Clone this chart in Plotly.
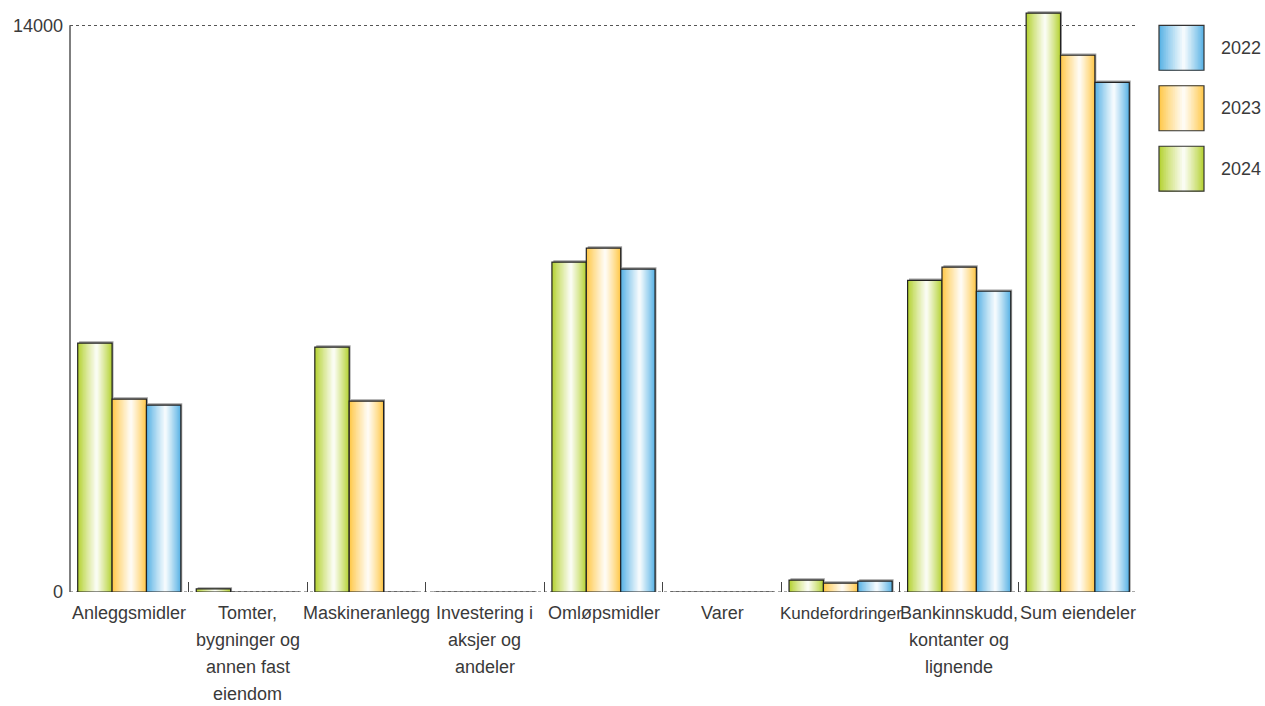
import plotly.graph_objects as go

categories = ["Anleggsmidler", "Tomter, bygninger og annen fast eiendom", "Maskineranlegg",
              "Investering i aksjer og andeler", "Omløpsmidler", "Varer", "Kundefordringer",
              "Bankinnskudd, kontanter og lignende", "Sum eiendeler"]
label_lines = [["Anleggsmidler"], ["Tomter,", "bygninger og", "annen fast", "eiendom"], ["Maskineranlegg"],
               ["Investering i", "aksjer og", "andeler"], ["Omløpsmidler"], ["Varer"], ["Kundefordringer"],
               ["Bankinnskudd,", "kontanter og", "lignende"], ["Sum eiendeler"]]
years = ["2024", "2023", "2022"]
v2024 = [6150, 75, 6050, 0, 8150, 0, 295, 7700, 14300]
v2023 = [4765, 0, 4715, 0, 8495, 0, 220, 8025, 13260]
v2022 = [4615, 0, 0, 0, 7975, 0, 270, 7430, 12590]
series = [v2024, v2023, v2022]
base_colors = [(181, 210, 52), (255, 200, 74), (88, 178, 228)]
y_max_tick = 14000
y_top = 14600

FONT = "Liberation Sans, Arial, sans-serif"
TXT = "#3a3a3a"
FS = 18

def mix(c, t):
    r, g, b = [int(round(ch + (255 - ch) * t)) for ch in c]
    return f"rgb({r},{g},{b})"

N = 14
GROUP_LEFT = -0.435
BW = 0.29
CENTER = 0.55

fig = go.Figure()
xs = list(range(len(categories)))

for i, (vals, col) in enumerate(zip(series, base_colors)):
    left = GROUP_LEFT + i * BW
    # shadow
    fig.add_trace(go.Bar(x=xs, y=[v + 45 if v > 0 else 0 for v in vals], offset=left + 0.012, width=BW,
                         marker=dict(color="#a0a0a0", line=dict(width=0)),
                         showlegend=False, hoverinfo="skip"))
    for k in range(N):
        t = k / N
        l = left + CENTER * BW * t
        r = left + BW - (1 - CENTER) * BW * t
        fig.add_trace(go.Bar(x=xs, y=vals, offset=l, width=r - l,
                             marker=dict(color=mix(col, t ** 0.9), line=dict(width=0)),
                             showlegend=False, hoverinfo="skip"))
    fig.add_trace(go.Bar(x=xs, y=vals, offset=left, width=BW, name=years[i],
                         marker=dict(color="rgba(0,0,0,0)", line=dict(color="#222222", width=1.2)),
                         showlegend=False))

# plot area: 0 at y=592px, 14000 at y=25px
px_per_unit = (592 - 25) / y_max_tick
top_margin = 592 - y_top * px_per_unit

fig.update_layout(
    barmode="overlay",
    width=1265, height=706,
    margin=dict(l=70, r=128, t=top_margin, b=114),
    plot_bgcolor="white", paper_bgcolor="white",
    font=dict(family=FONT, size=FS, color=TXT),
    xaxis=dict(type="category", tickvals=xs, ticktext=[""] * len(xs), tickson="boundaries",
               ticks="inside", ticklen=10, tickcolor="#444", tickwidth=1.2,
               showgrid=False, showline=False, zeroline=False, range=[-0.5, len(xs) - 0.5]),
    yaxis=dict(range=[0, y_top], tickvals=[0, y_max_tick], ticktext=["0", "14000"],
               showgrid=True, gridcolor="#555", griddash="dot", gridwidth=1,
               showline=False, zeroline=False, ticklabelstandoff=6,
               tickfont=dict(size=FS, color=TXT), ticks=""),
)

# y axis line up to the top tick only
fig.add_shape(type="line", xref="paper", yref="y", x0=0, x1=0, y0=0, y1=y_max_tick,
              line=dict(color="#555", width=1.5), layer="above")
# dotted baseline
fig.add_shape(type="line", xref="paper", yref="y", x0=0, x1=1, y0=0, y1=0,
              line=dict(color="#555", width=1.2, dash="dot"), layer="below")

# category labels
for xi, lines in zip(xs, label_lines):
    for j, ln in enumerate(lines):
        fs = 17 if ln == "Kundefordringer" else FS
        fig.add_annotation(x=xi, y=0, xref="x", yref="paper", text=ln, showarrow=False,
                           yanchor="middle", xanchor="center", yshift=-21 - 27 * j,
                           font=dict(size=fs, color=TXT, family=FONT))

# custom legend (2022, 2023, 2024 top to bottom), positioned in pixels
leg_order = [2, 1, 0]
pw = 1265 - 70 - 128
ph = 592 - top_margin
for row, si in enumerate(leg_order):
    top_px = 25 + row * 60.5
    x0 = (1159 - 70) / pw
    x1 = (1204 - 70) / pw
    y1 = (592 - top_px) / ph
    y0 = (592 - top_px - 45) / ph
    col = base_colors[si]
    W = x1 - x0
    for k in range(N):
        t = k / N
        fig.add_shape(type="rect", xref="paper", yref="paper",
                      x0=x0 + CENTER * W * t, x1=x1 - (1 - CENTER) * W * t, y0=y0, y1=y1,
                      fillcolor=mix(col, t ** 0.9), line=dict(width=0))
    fig.add_shape(type="rect", xref="paper", yref="paper", x0=x0, x1=x1, y0=y0, y1=y1,
                  fillcolor="rgba(0,0,0,0)", line=dict(color="#333", width=1.2))
    fig.add_annotation(x=(1219 - 70) / pw, y=(y0 + y1) / 2, xref="paper", yref="paper",
                       text=years[si], showarrow=False, xanchor="left", yanchor="middle",
                       font=dict(size=FS, color=TXT, family=FONT))

fig.write_html("out.html", config={"displayModeBar": False},
               post_script="document.body.style.margin='0';")
